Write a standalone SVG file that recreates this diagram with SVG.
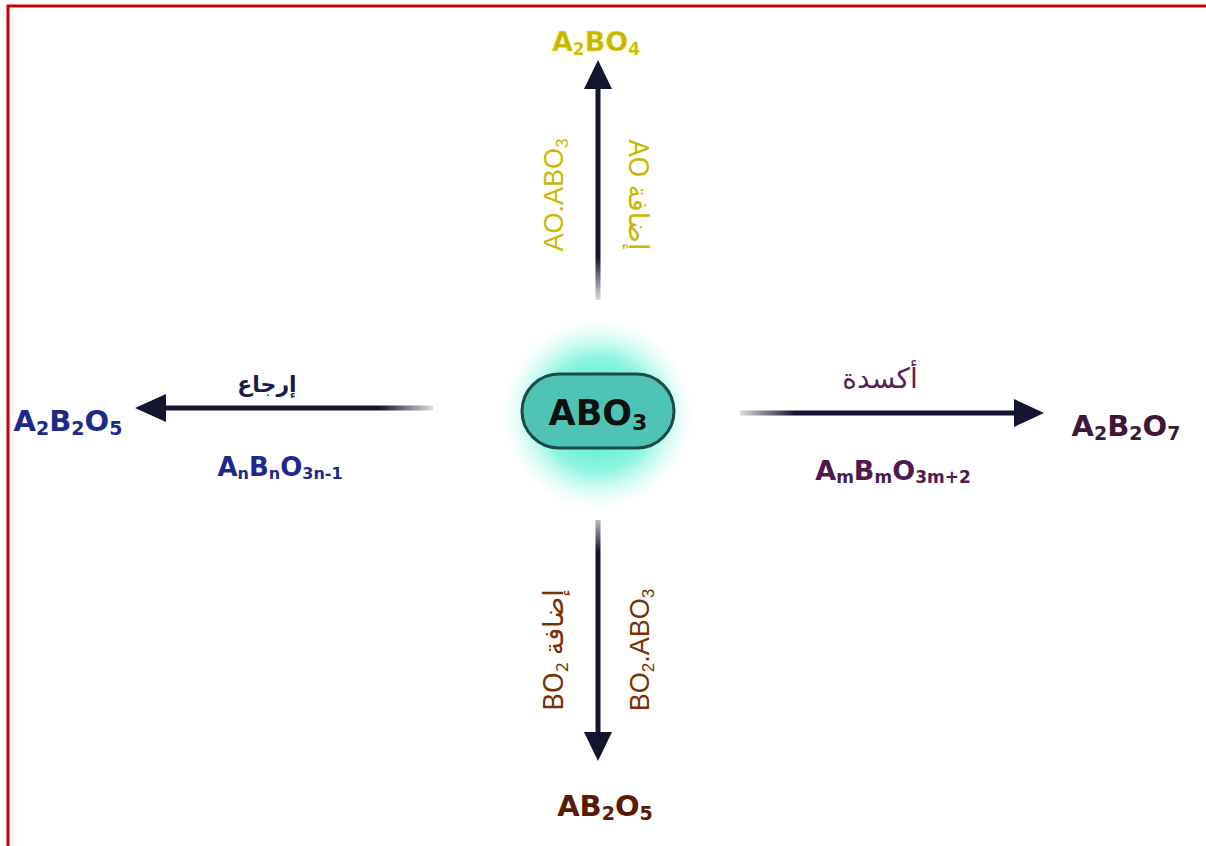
<svg xmlns="http://www.w3.org/2000/svg" width="1206" height="846" viewBox="0 0 1206 846">
<style>
.lbl{font-family:"DejaVu Sans","Noto Sans",sans-serif;font-weight:bold}
.vl{font-family:"Liberation Sans","Noto Sans",sans-serif;font-size:27px}
.ar{font-family:"Noto Sans","DejaVu Sans",sans-serif}
.head{fill:#14142e}
</style>
<defs>
<radialGradient id="glow" cx="0.5" cy="0.5" r="0.5">
<stop offset="0" stop-color="#2fe6c6" stop-opacity="1"/>
<stop offset="0.6" stop-color="#5ef0d4" stop-opacity="0.7"/>
<stop offset="1" stop-color="#b8faee" stop-opacity="0"/>
</radialGradient>
<linearGradient id="fadeUp" x1="0" y1="1" x2="0" y2="0"><stop offset="0" stop-color="#14142e" stop-opacity="0.15"/><stop offset="0.2" stop-color="#14142e"/><stop offset="1" stop-color="#14142e"/></linearGradient>
<linearGradient id="fadeDown" x1="0" y1="0" x2="0" y2="1"><stop offset="0" stop-color="#14142e" stop-opacity="0.3"/><stop offset="0.15" stop-color="#14142e"/><stop offset="1" stop-color="#14142e"/></linearGradient>
<linearGradient id="fadeLeft" x1="1" y1="0" x2="0" y2="0"><stop offset="0" stop-color="#14142e" stop-opacity="0.15"/><stop offset="0.2" stop-color="#14142e"/><stop offset="1" stop-color="#14142e"/></linearGradient>
<linearGradient id="fadeRight" x1="0" y1="0" x2="1" y2="0"><stop offset="0" stop-color="#14142e" stop-opacity="0.15"/><stop offset="0.2" stop-color="#14142e"/><stop offset="1" stop-color="#14142e"/></linearGradient>
</defs>
<rect width="1206" height="846" fill="#ffffff"/>
<path d="M8,846 V6 H1206" fill="none" stroke="#c80000" stroke-width="3"/>

<g id="connectors">
<rect x="595.5" y="86" width="5" height="214" fill="url(#fadeUp)"/>
<polygon class="head" points="598,60 612,89 584,89"/>
<rect x="163" y="405.5" width="270" height="5" fill="url(#fadeLeft)"/>
<polygon class="head" points="135,408 166,394 166,422"/>
<rect x="740" y="410.5" width="277" height="5" fill="url(#fadeRight)"/>
<polygon class="head" points="1044,413 1014,399 1014,427"/>
<rect x="595.5" y="520" width="5" height="214" fill="url(#fadeDown)"/>
<polygon class="head" points="598,761 612,732 584,732"/>
</g>

<g id="labels">
<text class="vl" transform="translate(563,195) rotate(-90)" text-anchor="middle" fill="#c8b800">AO.ABO<tspan font-size="17" dy="5">3</tspan></text>
<text class="vl ar" transform="translate(629,195) rotate(90)" text-anchor="middle" fill="#c8b800">AO  إضافة</text>
<text class="lbl ar" x="267" y="392" text-anchor="middle" font-size="22" fill="#1a1a4e">إرجاع</text>
<text class="lbl" x="280" y="476" text-anchor="middle" font-size="26" fill="#1e2a8a">A<tspan font-size="16" dy="3">n</tspan><tspan dy="-3">B</tspan><tspan font-size="16" dy="3">n</tspan><tspan dy="-3">O</tspan><tspan font-size="16" dy="3">3n-1</tspan></text>
<text class="ar" x="880" y="388" text-anchor="middle" font-size="28" fill="#5a2258">أكسدة</text>
<text class="lbl" x="893" y="480" text-anchor="middle" font-size="27" fill="#4e1a4e">A<tspan font-size="17" dy="3">m</tspan><tspan dy="-3">B</tspan><tspan font-size="17" dy="3">m</tspan><tspan dy="-3">O</tspan><tspan font-size="17" dy="3">3m+2</tspan></text>
<text class="vl ar" transform="translate(563,650) rotate(-90)" text-anchor="middle" fill="#7a3000">BO<tspan font-size="17" dy="5">2</tspan><tspan dy="-5"> إضافة</tspan></text>
<text class="vl" transform="translate(649,650) rotate(-90)" text-anchor="middle" fill="#7a3000">BO<tspan font-size="17" dy="5">2</tspan><tspan dy="-5">.ABO</tspan><tspan font-size="17" dy="5">3</tspan></text>
</g>

<g id="node-center">
<circle cx="598" cy="414" r="95" fill="url(#glow)"/>
<rect x="522" y="374" width="152" height="74" rx="37" fill="#4fc4b6" stroke="#1b4a48" stroke-width="3"/>
<text class="lbl" x="598" y="425" text-anchor="middle" font-size="35" fill="#111">ABO<tspan font-size="22" dy="5">3</tspan></text>
</g>

<g id="node-top">
<text class="lbl" x="596" y="51" text-anchor="middle" font-size="27" fill="#c8b400" stroke="#f4ee60" stroke-width="0.5">A<tspan font-size="17" dy="4">2</tspan><tspan dy="-4">BO</tspan><tspan font-size="17" dy="4">4</tspan></text>
</g>

<g id="node-left">
<text class="lbl" x="68" y="431" text-anchor="middle" font-size="29" fill="#1c2a8c">A<tspan font-size="19" dy="4">2</tspan><tspan dy="-4">B</tspan><tspan font-size="19" dy="4">2</tspan><tspan dy="-4">O</tspan><tspan font-size="19" dy="4">5</tspan></text>
</g>

<g id="node-right">
<text class="lbl" x="1126" y="436" text-anchor="middle" font-size="29" fill="#3e1838">A<tspan font-size="19" dy="4">2</tspan><tspan dy="-4">B</tspan><tspan font-size="19" dy="4">2</tspan><tspan dy="-4">O</tspan><tspan font-size="19" dy="4">7</tspan></text>
</g>

<g id="node-bottom">
<text class="lbl" x="605" y="816" text-anchor="middle" font-size="29" fill="#5a1a04">AB<tspan font-size="19" dy="4">2</tspan><tspan dy="-4">O</tspan><tspan font-size="19" dy="4">5</tspan></text>
</g>
</svg>
